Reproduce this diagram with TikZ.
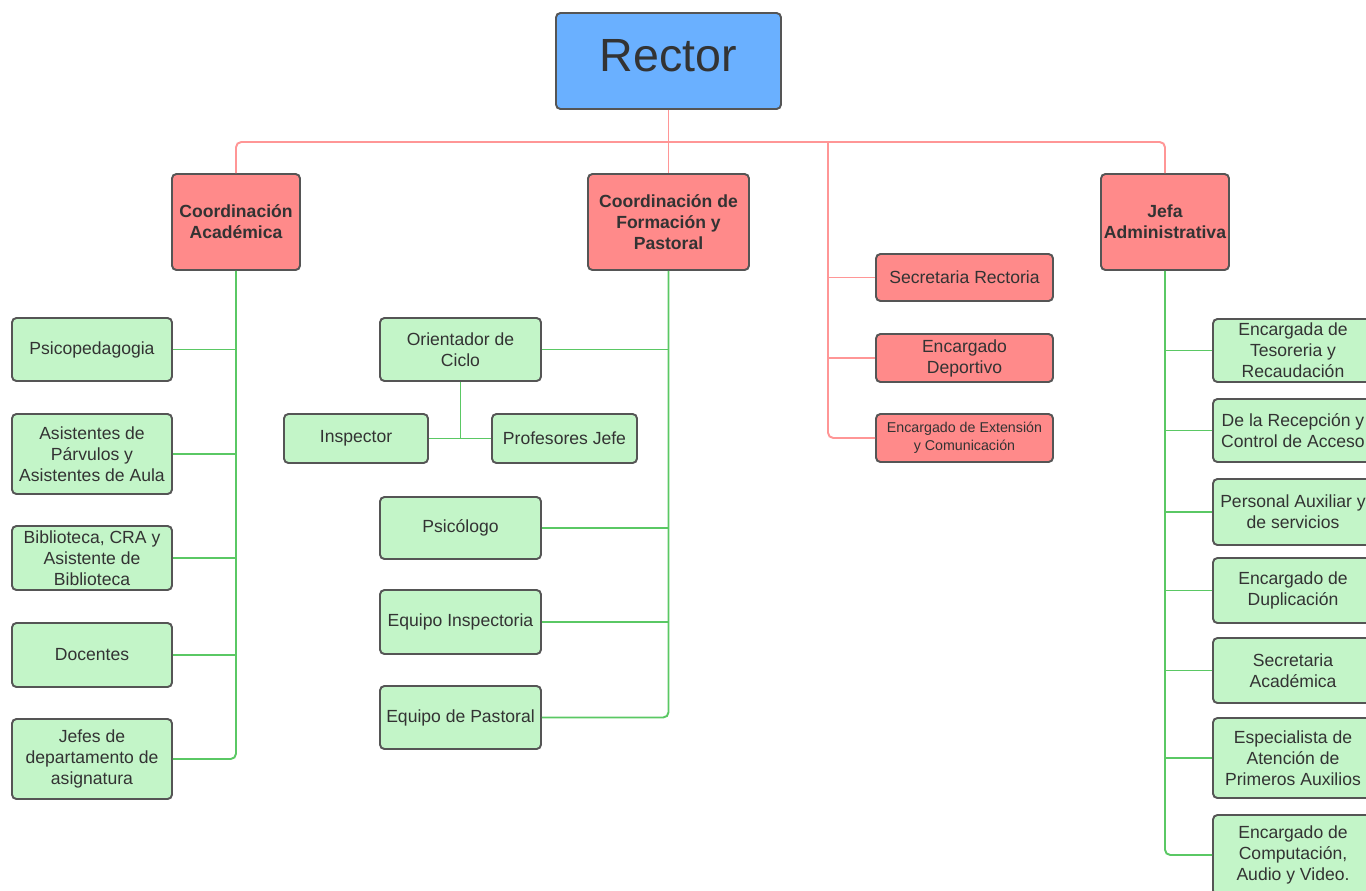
\documentclass[tikz,border=0pt]{standalone}
\usepackage{fontspec}
\setmainfont{Liberation Sans}
\usepackage{xcolor}
\definecolor{blau}{RGB}{106,176,255}
\definecolor{rosa}{RGB}{255,138,138}
\definecolor{hellgruen}{RGB}{195,245,200}
\definecolor{linierot}{RGB}{255,150,150}
\definecolor{liniegruen}{RGB}{90,200,100}
\definecolor{rand}{RGB}{85,85,85}
\definecolor{schrift}{RGB}{51,51,51}

\begin{document}
\begin{tikzpicture}[x=0.02cm,y=-0.02cm,
  kasten/.style={draw=rand,line width=1.1pt,rounded corners=2.5pt,align=center,inner sep=1pt,text=schrift,font=\fontsize{10}{12}\selectfont},
  gruenbox/.style={kasten,fill=hellgruen,minimum width=3.2cm},
  rotbox/.style={kasten,fill=rosa,minimum width=3.54cm},
  kopf/.style={kasten,fill=rosa,minimum height=1.92cm,font=\bfseries\fontsize{10}{12}\selectfont},
  rotlinie/.style={draw=linierot,line width=1.1pt,rounded corners=3pt},
  gruenlinie/.style={draw=liniegruen,line width=1.1pt,rounded corners=3pt}]

\useasboundingbox (0,0) rectangle (1366,890);
\clip (0,0) rectangle (1366,890);

%Leitung
\node[kasten,fill=blau,minimum width=4.5cm,minimum height=1.92cm,text depth=0.24cm,font=\fontsize{26.5}{30}\selectfont] (rector) at (668.5,61) {Rector};
\node[kopf,minimum width=2.56cm] (akad) at (236,222) {Coordinación\\Académica};
\node[kopf,minimum width=3.22cm] (form) at (668.5,222) {Coordinación de\\Formación y\\Pastoral};
\node[kopf,minimum width=2.56cm] (jefa) at (1165,222) {Jefa\\Administrativa};

%Rektorat
\node[rotbox,minimum height=0.94cm] (sekr) at (964.5,277.5) {Secretaria Rectoria};
\node[rotbox,minimum height=0.96cm] (dep) at (964.5,358) {Encargado\\Deportivo};
\node[rotbox,minimum height=0.96cm,font=\fontsize{8.1}{10}\selectfont] (ext) at (964.5,438) {Encargado de Extensión\\y Comunicación};

%Akademisch
\node[gruenbox,minimum height=1.26cm] (psico) at (92,349.5) {Psicopedagogia};
\node[gruenbox,minimum height=1.6cm] (asist) at (92,454) {Asistentes de\\Párvulos y\\Asistentes de Aula};
\node[gruenbox,minimum height=1.28cm] (biblio) at (92,558) {Biblioteca, CRA y\\Asistente de\\Biblioteca};
\node[gruenbox,minimum height=1.28cm] (doc) at (92,655) {Docentes};
\node[gruenbox,minimum height=1.6cm] (jefes) at (92,759) {Jefes de\\departamento de\\asignatura};

%Formacion
\node[gruenbox,minimum width=3.22cm,minimum height=1.26cm] (orient) at (460.5,349.5) {Orientador de\\Ciclo};
\node[gruenbox,minimum width=2.88cm,minimum height=0.98cm] (insp) at (356,438.5) {Inspector};
\node[gruenbox,minimum width=2.9cm,minimum height=0.98cm] (prof) at (564.5,438.5) {Profesores Jefe};
\node[gruenbox,minimum width=3.22cm,minimum height=1.24cm] (psicol) at (460.5,528) {Psicólogo};
\node[gruenbox,minimum width=3.22cm,minimum height=1.28cm] (equinsp) at (460.5,622) {Equipo Inspectoria};
\node[gruenbox,minimum width=3.22cm,minimum height=1.26cm] (equpast) at (460.5,717.5) {Equipo de Pastoral};

%Verwaltung
\node[gruenbox,minimum height=1.26cm] (teso) at (1293,350.5) {Encargada de\\Tesoreria y\\Recaudación};
\node[gruenbox,minimum height=1.26cm] (recep) at (1293,430.5) {De la Recepción y\\Control de Acceso};
\node[gruenbox,minimum height=1.32cm] (aux) at (1293,512) {Personal Auxiliar y\\de servicios};
\node[gruenbox,minimum height=1.3cm] (dupl) at (1293,590.5) {Encargado de\\Duplicación};
\node[gruenbox,minimum height=1.3cm] (sekrak) at (1293,670.5) {Secretaria\\Académica};
\node[gruenbox,minimum height=1.6cm] (auxil) at (1293,758) {Especialista de\\Atención de\\Primeros Auxilios};
\node[gruenbox,minimum height=1.6cm] (comp) at (1293,855) {Encargado de\\Computación,\\Audio y Video.};

%Linien oben
\coordinate (bus) at (668.5,142);
\coordinate (abzweig) at (828,142);
\draw[rotlinie] (rector) -- (form);
\draw[rotlinie] (akad.north) |- (bus) -| (jefa.north);
\draw[rotlinie] (abzweig) |- (ext.west);
\draw[rotlinie] (abzweig |- sekr.west) -- (sekr.west);
\draw[rotlinie] (abzweig |- dep.west) -- (dep.west);

%Linien links
\draw[gruenlinie] (akad.south) |- (jefes.east);
\draw[gruenlinie] (akad.south |- psico.east) -- (psico.east);
\draw[gruenlinie] (akad.south |- asist.east) -- (asist.east);
\draw[gruenlinie] (akad.south |- biblio.east) -- (biblio.east);
\draw[gruenlinie] (akad.south |- doc.east) -- (doc.east);

%Linien Mitte
\draw[gruenlinie] (form.south) |- (equpast.east);
\draw[gruenlinie] (form.south |- orient.east) -- (orient.east);
\draw[gruenlinie] (form.south |- psicol.east) -- (psicol.east);
\draw[gruenlinie] (form.south |- equinsp.east) -- (equinsp.east);
\draw[gruenlinie] (orient.south) -- (orient.south |- insp.east);
\draw[gruenlinie] (insp.east) -- (prof.west);

%Linien rechts
\draw[gruenlinie] (jefa.south) |- (comp.west);
\draw[gruenlinie] (jefa.south |- teso.west) -- (teso.west);
\draw[gruenlinie] (jefa.south |- recep.west) -- (recep.west);
\draw[gruenlinie] (jefa.south |- aux.west) -- (aux.west);
\draw[gruenlinie] (jefa.south |- dupl.west) -- (dupl.west);
\draw[gruenlinie] (jefa.south |- sekrak.west) -- (sekrak.west);
\draw[gruenlinie] (jefa.south |- auxil.west) -- (auxil.west);

\end{tikzpicture}
\end{document}
